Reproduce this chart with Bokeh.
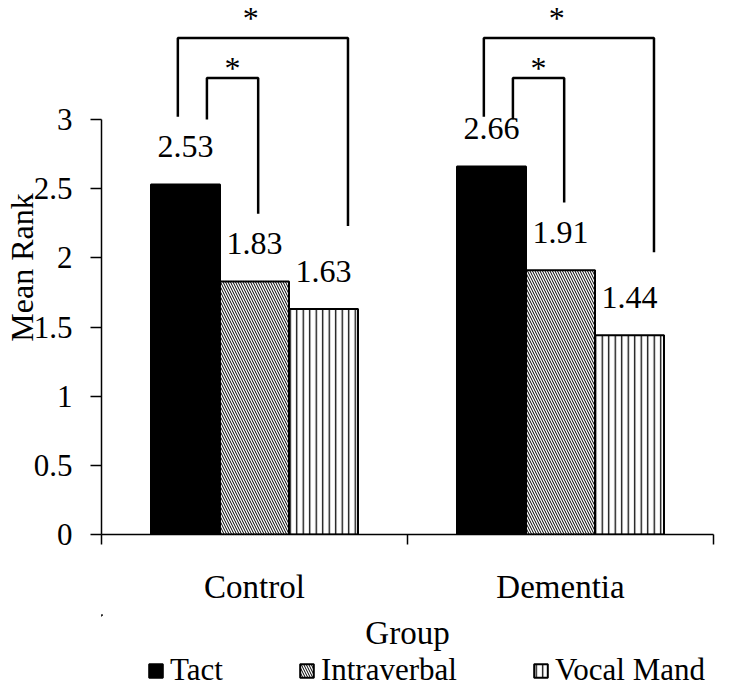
import numpy as np
from bokeh.plotting import figure
from bokeh.layouts import column
from bokeh.models import (FixedTicker, NumeralTickFormatter, Legend, LegendItem,
                          ColumnDataSource, Range1d)
from bokeh.core.properties import value
from bokeh.embed import file_html
from bokeh.resources import INLINE

# ---------------- data ----------------
groups = ["Control", "Dementia"]
series = ["Tact", "Intraverbal", "Vocal Mand"]
tact = [2.53, 2.66]
intraverbal = [1.83, 1.91]
vocal_mand = [1.63, 1.44]
y_ticks = [0, 0.5, 1, 1.5, 2, 2.5, 3]
# significant pairwise comparisons: (group index, series a, series b)
comparisons = [(0, 0, 1), (0, 0, 2), (1, 0, 1), (1, 0, 2)]
sig_marker = "*"
x_title = "Group"
y_title = "Mean Rank"

# ---------------- styling ----------------
FONT = "Liberation Serif"
values_by_series = [tact, intraverbal, vocal_mand]
bar_w = 0.2255
offsets = [-bar_w, 0.0, bar_w]
centers = np.arange(len(groups)) + 0.5
LEFT = 100          # px left of the plotting frame
FRAME_W = 612
FRAME_H = 534
RIGHT = 20
PX_Y = 138.3
BOTTOM = 80
FOOT_H = 74

p = figure(frame_width=FRAME_W, frame_height=FRAME_H,
           x_range=Range1d(0, len(groups)), y_range=Range1d(0, FRAME_H / PX_Y),
           output_backend="svg", toolbar_location=None,
           min_border_left=LEFT, min_border_top=0, min_border_right=RIGHT,
           min_border_bottom=BOTTOM)
p.outline_line_color = None
p.xgrid.visible = False
p.ygrid.visible = False
p.background_fill_color = "white"

styles = [
    dict(fill_color="black"),
    dict(fill_color="white", hatch_pattern="\\", hatch_scale=5.0,
         hatch_weight=1.0, hatch_color="black"),
    dict(fill_color="white", hatch_pattern="|", hatch_scale=6.5,
         hatch_weight=1.3, hatch_color="black"),
]

for i, (name, vals) in enumerate(zip(series, values_by_series)):
    src = ColumnDataSource(dict(x=centers + offsets[i], top=vals,
                                lab=[f"{v:.2f}" for v in vals]))
    p.vbar(x="x", top="top", width=bar_w, source=src,
           line_color="black", line_width=2, **styles[i])
    p.text(x="x", y="top", text="lab", source=src,
           text_font=value(FONT), text_font_size="32px",
           text_align="center", text_baseline="alphabetic",
           y_offset=-38, text_color="black")

# ---------------- significance brackets ----------------
xs, ys, sx, sy, syo = [], [], [], [], []
for g, a, b in comparisons:
    level = b - a
    vb = values_by_series[b][g]
    xa = centers[g] + offsets[a]
    xb = centers[g] + offsets[b]
    if level == 1:
        left, right, top = xa + 0.07, xb + 0.012, 3.30
        lb, rb = 3.0, vb + 0.49
        star_x, star_off = (left + right) / 2, -10
    else:
        left, right, top = xa - 0.025, xb + 0.08, 3.59
        lb, rb = 3.02, vb + 0.60
        star_x, star_off = (left + right) / 2 - 0.04, -20
    xs.append([left, left, right, right])
    ys.append([lb, top, top, rb])
    sx.append(star_x)
    sy.append(top)
    syo.append(star_off)

p.multi_line(xs=xs, ys=ys, line_color="black", line_width=2.5)
for x_, y_, o_ in zip(sx, sy, syo):
    p.text(x=[x_], y=[y_], text=[sig_marker], text_font=value(FONT),
           text_font_size="32px", text_align="center", text_baseline="middle",
           y_offset=o_, text_color="black")

# ---------------- axes ----------------
ya = p.yaxis[0]
ya.ticker = FixedTicker(ticks=y_ticks)
ya.formatter = NumeralTickFormatter(format="0.[0]")
ya.bounds = (0, 3)
ya.axis_line_width = 1.5
ya.axis_line_color = "black"
ya.major_tick_out = 11
ya.major_tick_in = 0
ya.major_tick_line_width = 1.5
ya.minor_tick_line_color = None
ya.major_label_text_font = FONT
ya.major_label_text_font_size = "31px"
ya.major_label_text_color = "black"
ya.major_label_standoff = 18
ya.axis_label = y_title
ya.axis_label_text_font = FONT
ya.axis_label_text_font_size = "32px"
ya.axis_label_text_font_style = "normal"
ya.axis_label_text_color = "black"
ya.axis_label_standoff = -9

xa_ = p.xaxis[0]
xa_.ticker = FixedTicker(ticks=list(centers),
                         minor_ticks=list(range(len(groups) + 1)))
xa_.major_label_overrides = {float(c): g for c, g in zip(centers, groups)}
xa_.axis_line_width = 1.5
xa_.axis_line_color = "black"
xa_.major_tick_line_color = None
xa_.major_tick_out = 10
xa_.major_tick_in = 0
xa_.minor_tick_line_color = "black"
xa_.minor_tick_line_width = 1.5
xa_.minor_tick_out = 10
xa_.minor_tick_in = 0
xa_.major_label_text_font = FONT
xa_.major_label_text_font_size = "33px"
xa_.major_label_text_color = "black"
xa_.major_label_standoff = 24

# ---------------- footer: x title and legend ----------------
f = figure(frame_width=FRAME_W, frame_height=FOOT_H,
           x_range=Range1d(0, len(groups)), y_range=Range1d(FOOT_H, 0),
           output_backend="svg", toolbar_location=None,
           x_axis_location=None, y_axis_location=None,
           min_border_left=LEFT, min_border_right=RIGHT, min_border_top=0,
           min_border_bottom=0)
f.outline_line_color = None
f.xgrid.visible = False
f.ygrid.visible = False

f.text(x=[len(groups) / 2], y=[632 - FRAME_H - BOTTOM], text=[x_title],
       text_font=value(FONT), text_font_size="33px", text_color="black",
       text_align="center", text_baseline="middle")

# legend swatches use renderers with the same styling (data lies off-frame)
dummies = [f.vbar(x=[-50], top=[1], width=0.1, line_color="black",
                  line_width=2, **styles[i]) for i in range(len(series))]
legend = Legend(items=[LegendItem(label=s, renderers=[r])
                       for s, r in zip(series, dummies)],
                orientation="horizontal", location=(46, 0),
                label_text_font=FONT, label_text_font_size="31px",
                label_text_color="black",
                glyph_width=17, glyph_height=17, label_standoff=6,
                spacing=75, padding=0, margin=0,
                border_line_color=None, background_fill_alpha=0)
f.add_layout(legend)

page = column(p, f, spacing=0)
open("out.html", "w").write(file_html(page, INLINE))
